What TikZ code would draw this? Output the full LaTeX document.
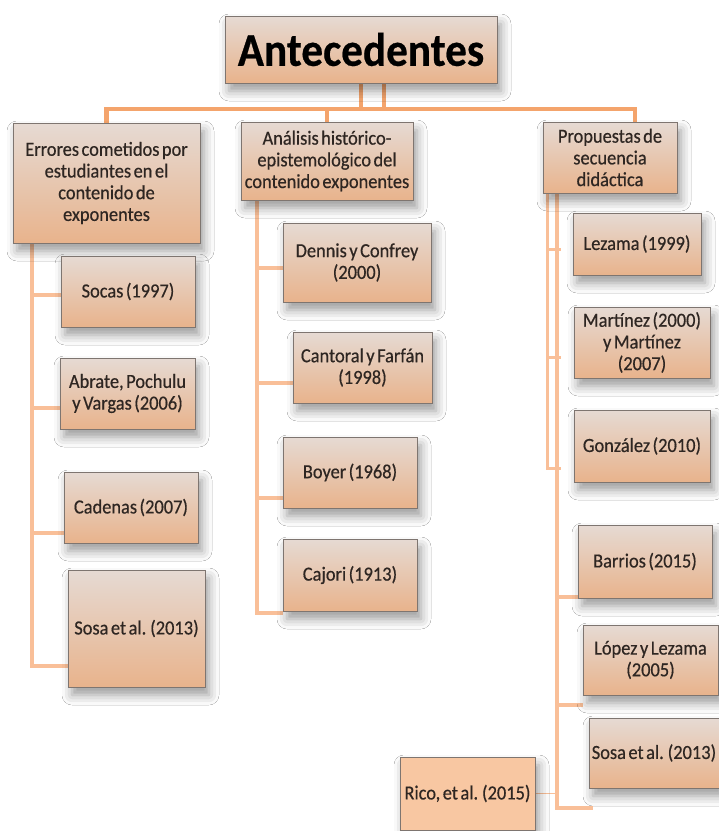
\documentclass[tikz,border=0pt]{standalone}
\usepackage{fontspec}
\setmainfont[FakeStretch=0.92,WordSpace=0.6,FakeBold=0.5]{Carlito}
\usetikzlibrary{shadows.blur}
\pgfdeclarelayer{background}
\pgfsetlayers{background,main}
\definecolor{boxtop}{HTML}{E6DAD3}
\definecolor{boxbot}{HTML}{E8B38C}
\definecolor{boxedge}{HTML}{7E7570}
\definecolor{conncol}{HTML}{F9BF98}
\definecolor{conndark}{HTML}{F4A46C}
\definecolor{txtcol}{HTML}{2E2622}
\definecolor{ricofill}{HTML}{F8C7A2}
\tikzset{
  box/.style={draw=boxedge, line width=0.9pt, top color=boxtop, bottom color=boxbot,
    inner sep=0pt, align=center, text=txtcol,
    font=\fontsize{20}{21.7}\selectfont,
    blur shadow={shadow xshift=4pt, shadow yshift=-8pt, shadow blur radius=10pt, shadow opacity=40}},
  titlebox/.style={box, font=\fontsize{47}{50}\selectfont\bfseries, text=black},
  ricobox/.style={box, top color=ricofill, bottom color=ricofill},
  conn/.style={draw=conncol, line width=4pt},
  connt/.style={draw=conndark, line width=4.5pt},
  thinconn/.style={draw=conncol, line width=1.2pt}
}
\begin{document}
\begin{tikzpicture}[x=1pt,y=-1pt]
\useasboundingbox (0,0) rectangle (719,831);
% top
\node[titlebox, minimum width=272pt, minimum height=67pt] (title) at (361,49.5) {Antecedentes};
\node[box, minimum width=187pt, minimum height=120pt] (err) at (106.5,183) {Errores cometidos por\\estudiantes en el\\contenido de\\exponentes};
\node[box, minimum width=172pt, minimum height=78pt] (ana) at (327,161) {Análisis histórico-\\epistemológico del\\contenido exponentes};
\node[box, minimum width=134pt, minimum height=71pt] (pro) at (610,157.5) {Propuestas de\\secuencia\\didáctica};
% left column
\node[box, minimum width=134pt, minimum height=71pt] (socas) at (128,291.5) {Socas (1997)};
\node[box, minimum width=135pt, minimum height=71pt] (abrate) at (127.5,393.5) {Abrate, Pochulu\\y Vargas (2006)};
\node[box, minimum width=134pt, minimum height=71pt] (cadenas) at (131,507.5) {Cadenas (2007)};
\node[box, minimum width=137pt, minimum height=117pt] (sosa1) at (136.5,628.5) {Sosa et al. (2013)};
% middle column
\node[box, minimum width=148pt, minimum height=79pt] (dennis) at (357,262.5) {Dennis y Confrey\\(2000)};
\node[box, minimum width=139pt, minimum height=71pt] (cantoral) at (362.5,367.5) {Cantoral y Farfán\\(1998)};
\node[box, minimum width=134pt, minimum height=71pt] (boyer) at (350,472.5) {Boyer (1968)};
\node[box, minimum width=134pt, minimum height=72pt] (cajori) at (350,575) {Cajori (1913)};
% right column
\node[box, minimum width=128pt, minimum height=62pt] (lezama) at (637,244) {Lezama (1999)};
\node[box, minimum width=136pt, minimum height=71pt] (martinez) at (642,342.5) {Martínez (2000)\\y Martínez\\(2007)};
\node[box, minimum width=136pt, minimum height=72pt] (gonzalez) at (642,446) {González (2010)};
\node[box, minimum width=134pt, minimum height=73pt] (barrios) at (645,561.5) {Barrios (2015)};
\node[box, minimum width=135pt, minimum height=70pt] (lopez) at (650.5,660) {López y Lezama\\(2005)};
\node[box, minimum width=130pt, minimum height=70pt] (sosa2) at (654,753) {Sosa et al. (2013)};
\node[ricobox, minimum width=135pt, minimum height=73pt] (rico) at (467.5,793.5) {Rico, et al. (2015)};

\begin{pgfonlayer}{background}
\fill[white] (0,0) rectangle (719,831);
% top connectors
\coordinate (hbar) at (0,109);
\coordinate (pdrop) at ([xshift=25pt]pro.north);
\draw[connt] (title.south) -- (title.south |- hbar);
\draw[connt] ([xshift=23pt]title.south) -- ([xshift=23pt]title.south |- hbar);
\draw[connt] (err.north) |- (hbar -| pdrop) -- (pdrop);
\draw[connt] (ana.north) -- (ana.north |- hbar);
% left column
\coordinate (L1) at (32,295);
\coordinate (L2) at (32,408);
\coordinate (L3) at (32,533);
\coordinate (L4) at (32,666);
\draw[conn] (err.south -| L1) -- (L4) -- (L4 -| sosa1.west);
\draw[conn] (L1) -- (L1 -| socas.west);
\draw[conn] (L2) -- (L2 -| abrate.west);
\draw[conn] (L3) -- (L3 -| cadenas.west);
% middle column
\coordinate (M1) at (257,268);
\coordinate (M2) at (257,383);
\coordinate (M3) at (257,498);
\coordinate (M4) at (257,613);
\draw[conn] (ana.south -| M1) -- (M4) -- (M4 -| cajori.west);
\draw[conn] (M1) -- (M1 -| dennis.west);
\draw[conn] (M2) -- (M2 -| cantoral.west);
\draw[conn] (M3) -- (M3 -| boyer.west);
% right column
\coordinate (RA1) at (547,249);
\coordinate (RA2) at (547,357);
\coordinate (RA3) at (547,468);
\coordinate (tick) at (561,0);
\draw[conn, line width=3pt] (pro.south -| RA1) -- (RA3) -- (RA3 -| tick);
\draw[conn, line width=3pt] (RA1) -- (RA1 -| tick);
\draw[conn, line width=3pt] (RA2) -- (RA2 -| tick);
\coordinate (RB1) at (557,597);
\coordinate (RB2) at (557,705);
\coordinate (RB3) at (557,808);
\coordinate (RR) at (557,793.5);
\coordinate (RBe) at (593,808);
\draw[conn] (pro.south -| RB1) -- (RB3) -- (RBe);
\draw[conn] (RB1) -- (RB1 -| barrios.west);
\draw[conn] (RB2) -- (RB2 -| lopez.west);
\draw[thinconn] (rico.east) -- (RR);
\end{pgfonlayer}
\end{tikzpicture}
\end{document}
